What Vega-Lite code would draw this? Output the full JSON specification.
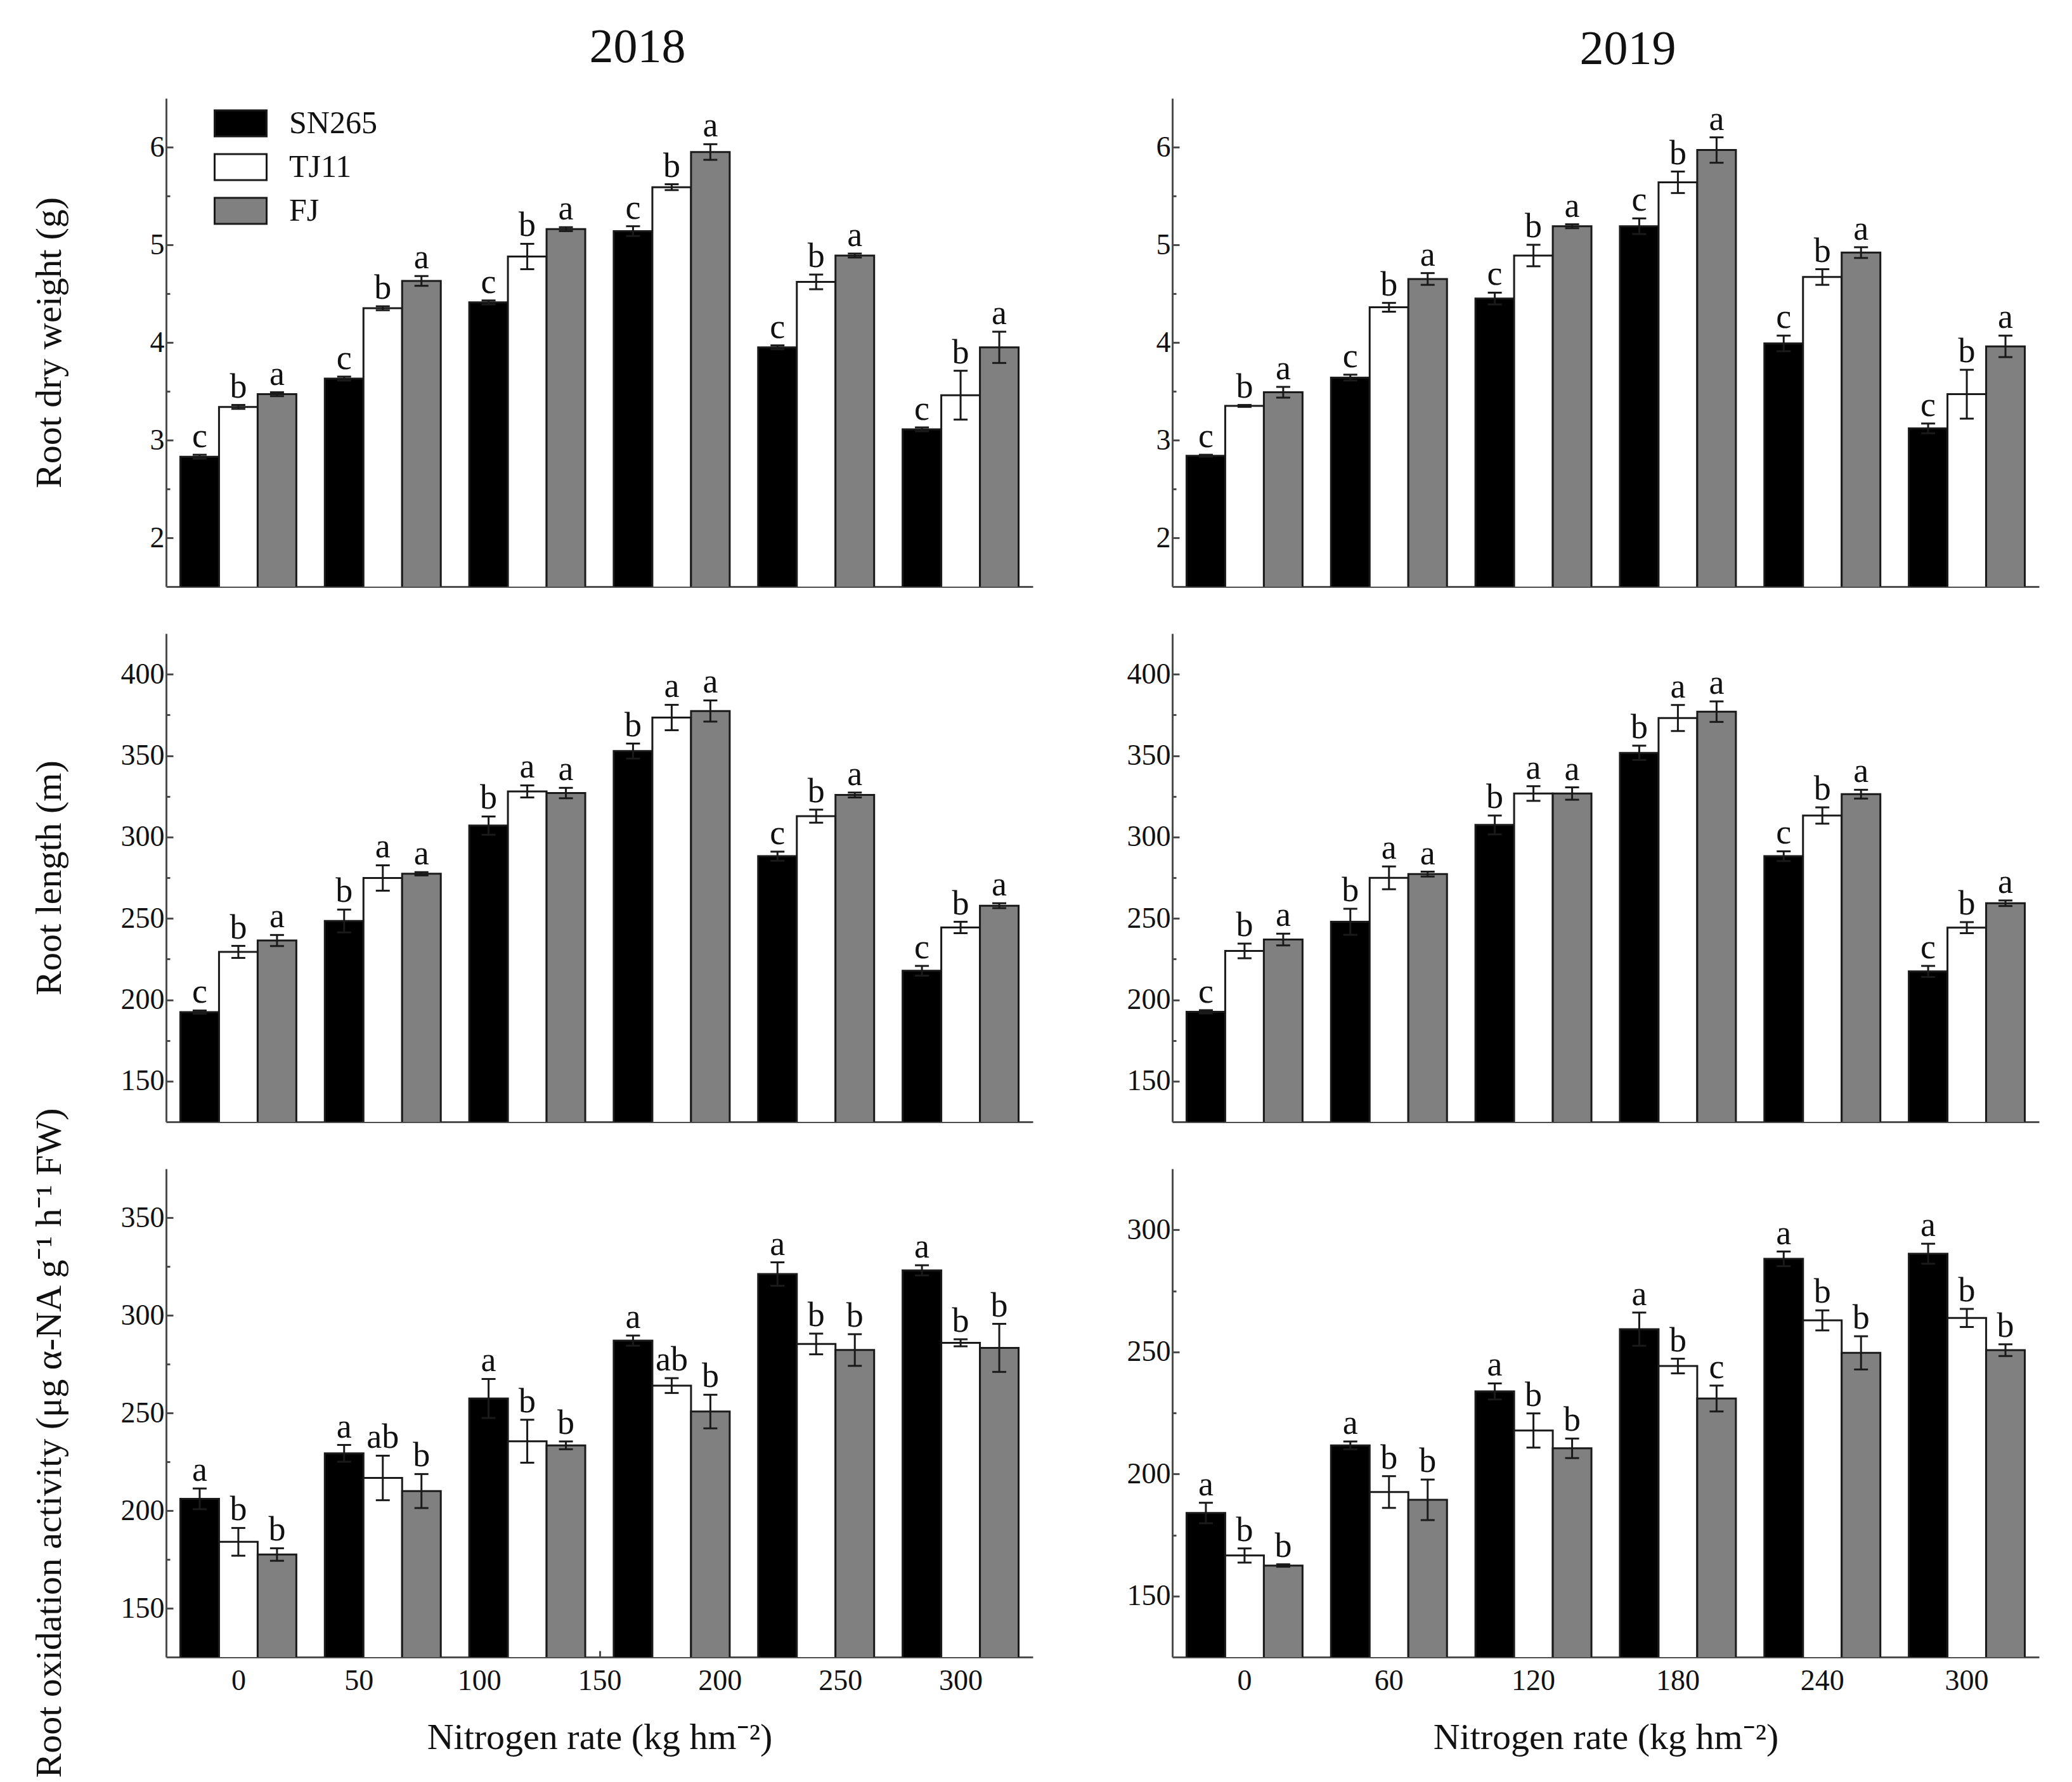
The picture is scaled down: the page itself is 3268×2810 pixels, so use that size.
{
  "$schema": "https://vega.github.io/schema/vega-lite/v6.json",
  "background": "white",
  "padding": {"left": 48, "top": 37, "right": 20, "bottom": 20},
  "bounds": "flush",
  "columns": 2,
  "spacing": {"row": 74, "column": 220},
  "resolve": {"scale": {"fill": "independent"}, "legend": {"fill": "independent"}},
  "config": {
    "view": {"stroke": null},
    "font": "Liberation Serif",
    "axis": {"domainColor": "#4d4d4d", "domainWidth": 3, "tickColor": "#4d4d4d", "tickWidth": 3, "labelFont": "Liberation Serif", "labelFontSize": 46, "labelColor": "#111111", "titleFont": "Liberation Serif", "titleFontSize": 58, "titleFontWeight": "normal", "titleColor": "#111111", "grid": false, "labelPadding": 14},
    "axisX": {"labelPadding": 25, "titlePadding": 38},
    "title": {"font": "Liberation Serif", "fontSize": 76, "fontWeight": "normal", "color": "#111111", "frame": "group", "offset": 38},
    "legend": {"labelFont": "Liberation Serif", "labelFontSize": 50, "labelColor": "#111111"}
  },
  "datasets": {
    "w18": [
      {"N": 0, "v": "SN265", "mean": 2.83, "lo": 2.81, "hi": 2.85, "let": "c"},
      {"N": 0, "v": "TJ11", "mean": 3.34, "lo": 3.32, "hi": 3.36, "let": "b"},
      {"N": 0, "v": "FJ", "mean": 3.47, "lo": 3.45, "hi": 3.49, "let": "a"},
      {"N": 60, "v": "SN265", "mean": 3.63, "lo": 3.61, "hi": 3.65, "let": "c"},
      {"N": 60, "v": "TJ11", "mean": 4.35, "lo": 4.33, "hi": 4.37, "let": "b"},
      {"N": 60, "v": "FJ", "mean": 4.63, "lo": 4.58, "hi": 4.68, "let": "a"},
      {"N": 120, "v": "SN265", "mean": 4.41, "lo": 4.39, "hi": 4.43, "let": "c"},
      {"N": 120, "v": "TJ11", "mean": 4.88, "lo": 4.75, "hi": 5.01, "let": "b"},
      {"N": 120, "v": "FJ", "mean": 5.16, "lo": 5.14, "hi": 5.18, "let": "a"},
      {"N": 180, "v": "SN265", "mean": 5.14, "lo": 5.09, "hi": 5.19, "let": "c"},
      {"N": 180, "v": "TJ11", "mean": 5.59, "lo": 5.56, "hi": 5.62, "let": "b"},
      {"N": 180, "v": "FJ", "mean": 5.95, "lo": 5.87, "hi": 6.03, "let": "a"},
      {"N": 240, "v": "SN265", "mean": 3.95, "lo": 3.93, "hi": 3.97, "let": "c"},
      {"N": 240, "v": "TJ11", "mean": 4.62, "lo": 4.545, "hi": 4.695, "let": "b"},
      {"N": 240, "v": "FJ", "mean": 4.89, "lo": 4.87, "hi": 4.91, "let": "a"},
      {"N": 300, "v": "SN265", "mean": 3.11, "lo": 3.09, "hi": 3.13, "let": "c"},
      {"N": 300, "v": "TJ11", "mean": 3.46, "lo": 3.21, "hi": 3.71, "let": "b"},
      {"N": 300, "v": "FJ", "mean": 3.95, "lo": 3.79, "hi": 4.11, "let": "a"}
    ],
    "w19": [
      {"N": 0, "v": "SN265", "mean": 2.84, "lo": 2.83, "hi": 2.85, "let": "c"},
      {"N": 0, "v": "TJ11", "mean": 3.35, "lo": 3.34, "hi": 3.36, "let": "b"},
      {"N": 0, "v": "FJ", "mean": 3.49, "lo": 3.435, "hi": 3.545, "let": "a"},
      {"N": 60, "v": "SN265", "mean": 3.64, "lo": 3.61, "hi": 3.67, "let": "c"},
      {"N": 60, "v": "TJ11", "mean": 4.36, "lo": 4.315, "hi": 4.405, "let": "b"},
      {"N": 60, "v": "FJ", "mean": 4.65, "lo": 4.59, "hi": 4.71, "let": "a"},
      {"N": 120, "v": "SN265", "mean": 4.45, "lo": 4.39, "hi": 4.51, "let": "c"},
      {"N": 120, "v": "TJ11", "mean": 4.89, "lo": 4.78, "hi": 5.0, "let": "b"},
      {"N": 120, "v": "FJ", "mean": 5.19, "lo": 5.17, "hi": 5.21, "let": "a"},
      {"N": 180, "v": "SN265", "mean": 5.19, "lo": 5.11, "hi": 5.27, "let": "c"},
      {"N": 180, "v": "TJ11", "mean": 5.64, "lo": 5.53, "hi": 5.75, "let": "b"},
      {"N": 180, "v": "FJ", "mean": 5.97, "lo": 5.84, "hi": 6.1, "let": "a"},
      {"N": 240, "v": "SN265", "mean": 3.99, "lo": 3.91, "hi": 4.07, "let": "c"},
      {"N": 240, "v": "TJ11", "mean": 4.67, "lo": 4.59, "hi": 4.75, "let": "b"},
      {"N": 240, "v": "FJ", "mean": 4.92, "lo": 4.865, "hi": 4.975, "let": "a"},
      {"N": 300, "v": "SN265", "mean": 3.12, "lo": 3.07, "hi": 3.17, "let": "c"},
      {"N": 300, "v": "TJ11", "mean": 3.47, "lo": 3.22, "hi": 3.72, "let": "b"},
      {"N": 300, "v": "FJ", "mean": 3.96, "lo": 3.85, "hi": 4.07, "let": "a"}
    ],
    "l18": [
      {"N": 0, "v": "SN265", "mean": 192.4, "lo": 191.4, "hi": 193.4, "let": "c"},
      {"N": 0, "v": "TJ11", "mean": 229.4, "lo": 225.7, "hi": 233.1, "let": "b"},
      {"N": 0, "v": "FJ", "mean": 236.4, "lo": 233.0, "hi": 239.8, "let": "a"},
      {"N": 60, "v": "SN265", "mean": 248.4, "lo": 241.4, "hi": 255.4, "let": "b"},
      {"N": 60, "v": "TJ11", "mean": 274.8, "lo": 267.0, "hi": 282.6, "let": "a"},
      {"N": 60, "v": "FJ", "mean": 277.4, "lo": 276.4, "hi": 278.4, "let": "a"},
      {"N": 120, "v": "SN265", "mean": 307.0, "lo": 301.4, "hi": 312.6, "let": "b"},
      {"N": 120, "v": "TJ11", "mean": 328.0, "lo": 324.3, "hi": 331.7, "let": "a"},
      {"N": 120, "v": "FJ", "mean": 327.0, "lo": 323.8, "hi": 330.2, "let": "a"},
      {"N": 180, "v": "SN265", "mean": 352.8, "lo": 348.2, "hi": 357.4, "let": "b"},
      {"N": 180, "v": "TJ11", "mean": 373.4, "lo": 365.6, "hi": 381.2, "let": "a"},
      {"N": 180, "v": "FJ", "mean": 377.4, "lo": 370.9, "hi": 383.9, "let": "a"},
      {"N": 240, "v": "SN265", "mean": 288.2, "lo": 285.4, "hi": 291.0, "let": "c"},
      {"N": 240, "v": "TJ11", "mean": 312.8, "lo": 308.8, "hi": 316.8, "let": "b"},
      {"N": 240, "v": "FJ", "mean": 325.8, "lo": 324.3, "hi": 327.3, "let": "a"},
      {"N": 300, "v": "SN265", "mean": 217.8, "lo": 214.8, "hi": 220.8, "let": "c"},
      {"N": 300, "v": "TJ11", "mean": 244.4, "lo": 240.9, "hi": 247.9, "let": "b"},
      {"N": 300, "v": "FJ", "mean": 257.8, "lo": 256.3, "hi": 259.3, "let": "a"}
    ],
    "l19": [
      {"N": 0, "v": "SN265", "mean": 192.6, "lo": 191.6, "hi": 193.6, "let": "c"},
      {"N": 0, "v": "TJ11", "mean": 230.0, "lo": 225.5, "hi": 234.5, "let": "b"},
      {"N": 0, "v": "FJ", "mean": 237.0, "lo": 233.4, "hi": 240.6, "let": "a"},
      {"N": 60, "v": "SN265", "mean": 247.9, "lo": 239.9, "hi": 255.9, "let": "b"},
      {"N": 60, "v": "TJ11", "mean": 274.9, "lo": 267.9, "hi": 281.9, "let": "a"},
      {"N": 60, "v": "FJ", "mean": 277.2, "lo": 275.7, "hi": 278.7, "let": "a"},
      {"N": 120, "v": "SN265", "mean": 307.4, "lo": 301.6, "hi": 313.2, "let": "b"},
      {"N": 120, "v": "TJ11", "mean": 326.7, "lo": 322.2, "hi": 331.2, "let": "a"},
      {"N": 120, "v": "FJ", "mean": 326.7, "lo": 322.9, "hi": 330.5, "let": "a"},
      {"N": 180, "v": "SN265", "mean": 351.7, "lo": 347.3, "hi": 356.1, "let": "b"},
      {"N": 180, "v": "TJ11", "mean": 373.1, "lo": 365.1, "hi": 381.1, "let": "a"},
      {"N": 180, "v": "FJ", "mean": 377.0, "lo": 370.7, "hi": 383.3, "let": "a"},
      {"N": 240, "v": "SN265", "mean": 288.2, "lo": 285.2, "hi": 291.2, "let": "c"},
      {"N": 240, "v": "TJ11", "mean": 313.2, "lo": 308.2, "hi": 318.2, "let": "b"},
      {"N": 240, "v": "FJ", "mean": 326.3, "lo": 323.6, "hi": 329.0, "let": "a"},
      {"N": 300, "v": "SN265", "mean": 217.4, "lo": 214.0, "hi": 220.8, "let": "c"},
      {"N": 300, "v": "TJ11", "mean": 244.3, "lo": 240.9, "hi": 247.7, "let": "b"},
      {"N": 300, "v": "FJ", "mean": 259.3, "lo": 257.6, "hi": 261.0, "let": "a"}
    ],
    "o18": [
      {"N": 0, "v": "SN265", "mean": 206.0, "lo": 200.7, "hi": 211.3, "let": "a"},
      {"N": 0, "v": "TJ11", "mean": 184.0, "lo": 176.9, "hi": 191.1, "let": "b"},
      {"N": 0, "v": "FJ", "mean": 177.5, "lo": 174.3, "hi": 180.7, "let": "b"},
      {"N": 60, "v": "SN265", "mean": 229.3, "lo": 225.0, "hi": 233.6, "let": "a"},
      {"N": 60, "v": "TJ11", "mean": 216.7, "lo": 205.3, "hi": 228.1, "let": "ab"},
      {"N": 60, "v": "FJ", "mean": 210.0, "lo": 201.3, "hi": 218.7, "let": "b"},
      {"N": 120, "v": "SN265", "mean": 257.4, "lo": 247.4, "hi": 267.4, "let": "a"},
      {"N": 120, "v": "TJ11", "mean": 235.5, "lo": 224.5, "hi": 246.5, "let": "b"},
      {"N": 120, "v": "FJ", "mean": 233.4, "lo": 231.4, "hi": 235.4, "let": "b"},
      {"N": 180, "v": "SN265", "mean": 287.0, "lo": 284.4, "hi": 289.6, "let": "a"},
      {"N": 180, "v": "TJ11", "mean": 264.0, "lo": 260.2, "hi": 267.8, "let": "ab"},
      {"N": 180, "v": "FJ", "mean": 250.7, "lo": 242.1, "hi": 259.3, "let": "b"},
      {"N": 240, "v": "SN265", "mean": 321.1, "lo": 315.1, "hi": 327.1, "let": "a"},
      {"N": 240, "v": "TJ11", "mean": 285.3, "lo": 280.0, "hi": 290.6, "let": "b"},
      {"N": 240, "v": "FJ", "mean": 282.2, "lo": 274.1, "hi": 290.3, "let": "b"},
      {"N": 300, "v": "SN265", "mean": 323.0, "lo": 320.4, "hi": 325.6, "let": "a"},
      {"N": 300, "v": "TJ11", "mean": 285.9, "lo": 284.1, "hi": 287.7, "let": "b"},
      {"N": 300, "v": "FJ", "mean": 283.3, "lo": 271.0, "hi": 295.6, "let": "b"}
    ],
    "o19": [
      {"N": 0, "v": "SN265", "mean": 184.0, "lo": 179.8, "hi": 188.2, "let": "a"},
      {"N": 0, "v": "TJ11", "mean": 166.6, "lo": 163.7, "hi": 169.5, "let": "b"},
      {"N": 0, "v": "FJ", "mean": 162.5, "lo": 162.0, "hi": 163.0, "let": "b"},
      {"N": 60, "v": "SN265", "mean": 211.7, "lo": 210.1, "hi": 213.3, "let": "a"},
      {"N": 60, "v": "TJ11", "mean": 192.6, "lo": 186.1, "hi": 199.1, "let": "b"},
      {"N": 60, "v": "FJ", "mean": 189.4, "lo": 181.1, "hi": 197.7, "let": "b"},
      {"N": 120, "v": "SN265", "mean": 233.8, "lo": 230.5, "hi": 237.1, "let": "a"},
      {"N": 120, "v": "TJ11", "mean": 217.8, "lo": 210.8, "hi": 224.8, "let": "b"},
      {"N": 120, "v": "FJ", "mean": 210.5, "lo": 206.5, "hi": 214.5, "let": "b"},
      {"N": 180, "v": "SN265", "mean": 259.3, "lo": 252.5, "hi": 266.1, "let": "a"},
      {"N": 180, "v": "TJ11", "mean": 244.2, "lo": 241.2, "hi": 247.2, "let": "b"},
      {"N": 180, "v": "FJ", "mean": 230.9, "lo": 225.6, "hi": 236.2, "let": "c"},
      {"N": 240, "v": "SN265", "mean": 288.1, "lo": 285.1, "hi": 291.1, "let": "a"},
      {"N": 240, "v": "TJ11", "mean": 262.9, "lo": 258.8, "hi": 267.0, "let": "b"},
      {"N": 240, "v": "FJ", "mean": 249.6, "lo": 242.8, "hi": 256.4, "let": "b"},
      {"N": 300, "v": "SN265", "mean": 290.2, "lo": 286.1, "hi": 294.3, "let": "a"},
      {"N": 300, "v": "TJ11", "mean": 263.9, "lo": 260.2, "hi": 267.6, "let": "b"},
      {"N": 300, "v": "FJ", "mean": 250.7, "lo": 248.3, "hi": 253.1, "let": "b"}
    ]
  },
  "concat": [
    {
      "width": 1367, "height": 770,
      "title": {"text": "2018", "dx": 60},
      "data": {"name": "w18"},
      "encoding": {
        "x": {"field": "N", "type": "ordinal", "scale": {"paddingInner": 0.197, "paddingOuter": 0.0985}, "axis": {"labels": false, "title": null, "tickSize": -10}},
        "xOffset": {"field": "v", "type": "nominal", "scale": {"domain": ["SN265", "TJ11", "FJ"], "paddingInner": 0, "paddingOuter": 0}}
      },
      "layer": [
        {"mark": {"type": "bar", "clip": true, "stroke": "#1a1a1a", "strokeWidth": 3},
         "encoding": {
           "y": {"field": "mean", "type": "quantitative", "scale": {"domain": [1.5, 6.5], "nice": false, "zero": false},
                 "axis": {"title": "Root dry weight (g)", "values": [2, 2.5, 3, 3.5, 4, 4.5, 5, 5.5, 6], "labelExpr": "datum.value % 1 === 0 ? format(datum.value, 'd') : ''", "tickSize": {"condition": {"test": "datum.value % 1 !== 0", "value": -6}, "value": -11}, "titleX": -184, "titleY": 385, "titleBaseline": "middle"}},
           "fill": {"field": "v", "type": "nominal", "scale": {"domain": ["SN265", "TJ11", "FJ"], "range": ["#000000", "#ffffff", "#808080"]},
                    "legend": {"title": null, "orient": "none", "legendX": 75, "legendY": -3, "symbolType": "M-1,-0.5H1V0.5H-1Z", "symbolSize": 6724, "symbolStrokeColor": "#1a1a1a", "symbolStrokeWidth": 3, "labelOffset": 34, "rowPadding": -4}}
         }},
        {"mark": {"type": "rule", "color": "#1a1a1a", "strokeWidth": 3},
         "encoding": {"y": {"field": "lo", "type": "quantitative", "scale": {"domain": [1.5, 6.5], "nice": false, "zero": false}}, "y2": {"field": "hi"}}},
        {"mark": {"type": "tick", "orient": "horizontal", "color": "#1a1a1a", "size": 22, "thickness": 3, "opacity": 1},
         "encoding": {"y": {"field": "lo", "type": "quantitative", "scale": {"domain": [1.5, 6.5], "nice": false, "zero": false}}}},
        {"mark": {"type": "tick", "orient": "horizontal", "color": "#1a1a1a", "size": 22, "thickness": 3, "opacity": 1},
         "encoding": {"y": {"field": "hi", "type": "quantitative", "scale": {"domain": [1.5, 6.5], "nice": false, "zero": false}}}},
        {"mark": {"type": "text", "baseline": "alphabetic", "dy": -12, "fontSize": 54, "color": "#111111"},
         "encoding": {"y": {"field": "hi", "type": "quantitative", "scale": {"domain": [1.5, 6.5], "nice": false, "zero": false}}, "text": {"field": "let"}}}
      ]
    },
    {
      "width": 1367, "height": 770,
      "title": {"text": "2019", "dx": 35},
      "data": {"name": "w19"},
      "encoding": {
        "x": {"field": "N", "type": "ordinal", "scale": {"paddingInner": 0.197, "paddingOuter": 0.0985}, "axis": {"labels": false, "title": null, "tickSize": -10}},
        "xOffset": {"field": "v", "type": "nominal", "scale": {"domain": ["SN265", "TJ11", "FJ"], "paddingInner": 0, "paddingOuter": 0}}
      },
      "layer": [
        {"mark": {"type": "bar", "clip": true, "stroke": "#1a1a1a", "strokeWidth": 3},
         "encoding": {
           "y": {"field": "mean", "type": "quantitative", "scale": {"domain": [1.5, 6.5], "nice": false, "zero": false},
                 "axis": {"title": null, "values": [2, 2.5, 3, 3.5, 4, 4.5, 5, 5.5, 6], "labelExpr": "datum.value % 1 === 0 ? format(datum.value, 'd') : ''", "tickSize": {"condition": {"test": "datum.value % 1 !== 0", "value": -6}, "value": -11}}},
           "fill": {"field": "v", "type": "nominal", "scale": {"domain": ["SN265", "TJ11", "FJ"], "range": ["#000000", "#ffffff", "#808080"]}, "legend": null}
         }},
        {"mark": {"type": "rule", "color": "#1a1a1a", "strokeWidth": 3},
         "encoding": {"y": {"field": "lo", "type": "quantitative", "scale": {"domain": [1.5, 6.5], "nice": false, "zero": false}}, "y2": {"field": "hi"}}},
        {"mark": {"type": "tick", "orient": "horizontal", "color": "#1a1a1a", "size": 22, "thickness": 3, "opacity": 1},
         "encoding": {"y": {"field": "lo", "type": "quantitative", "scale": {"domain": [1.5, 6.5], "nice": false, "zero": false}}}},
        {"mark": {"type": "tick", "orient": "horizontal", "color": "#1a1a1a", "size": 22, "thickness": 3, "opacity": 1},
         "encoding": {"y": {"field": "hi", "type": "quantitative", "scale": {"domain": [1.5, 6.5], "nice": false, "zero": false}}}},
        {"mark": {"type": "text", "baseline": "alphabetic", "dy": -12, "fontSize": 54, "color": "#111111"},
         "encoding": {"y": {"field": "hi", "type": "quantitative", "scale": {"domain": [1.5, 6.5], "nice": false, "zero": false}}, "text": {"field": "let"}}}
      ]
    },
    {
      "width": 1367, "height": 770,
      "data": {"name": "l18"},
      "encoding": {
        "x": {"field": "N", "type": "ordinal", "scale": {"paddingInner": 0.197, "paddingOuter": 0.0985}, "axis": {"labels": false, "title": null, "tickSize": -10}},
        "xOffset": {"field": "v", "type": "nominal", "scale": {"domain": ["SN265", "TJ11", "FJ"], "paddingInner": 0, "paddingOuter": 0}}
      },
      "layer": [
        {"mark": {"type": "bar", "clip": true, "stroke": "#1a1a1a", "strokeWidth": 3},
         "encoding": {
           "y": {"field": "mean", "type": "quantitative", "scale": {"domain": [125, 425], "nice": false, "zero": false},
                 "axis": {"title": "Root length (m)", "values": [150, 175, 200, 225, 250, 275, 300, 325, 350, 375, 400], "labelExpr": "datum.value % 50 === 0 ? datum.label : ''", "tickSize": {"condition": {"test": "datum.value % 50 !== 0", "value": -6}, "value": -11}, "titleX": -184, "titleY": 385, "titleBaseline": "middle"}},
           "fill": {"field": "v", "type": "nominal", "scale": {"domain": ["SN265", "TJ11", "FJ"], "range": ["#000000", "#ffffff", "#808080"]}, "legend": null}
         }},
        {"mark": {"type": "rule", "color": "#1a1a1a", "strokeWidth": 3},
         "encoding": {"y": {"field": "lo", "type": "quantitative", "scale": {"domain": [125, 425], "nice": false, "zero": false}}, "y2": {"field": "hi"}}},
        {"mark": {"type": "tick", "orient": "horizontal", "color": "#1a1a1a", "size": 22, "thickness": 3, "opacity": 1},
         "encoding": {"y": {"field": "lo", "type": "quantitative", "scale": {"domain": [125, 425], "nice": false, "zero": false}}}},
        {"mark": {"type": "tick", "orient": "horizontal", "color": "#1a1a1a", "size": 22, "thickness": 3, "opacity": 1},
         "encoding": {"y": {"field": "hi", "type": "quantitative", "scale": {"domain": [125, 425], "nice": false, "zero": false}}}},
        {"mark": {"type": "text", "baseline": "alphabetic", "dy": -12, "fontSize": 54, "color": "#111111"},
         "encoding": {"y": {"field": "hi", "type": "quantitative", "scale": {"domain": [125, 425], "nice": false, "zero": false}}, "text": {"field": "let"}}}
      ]
    },
    {
      "width": 1367, "height": 770,
      "data": {"name": "l19"},
      "encoding": {
        "x": {"field": "N", "type": "ordinal", "scale": {"paddingInner": 0.197, "paddingOuter": 0.0985}, "axis": {"labels": false, "title": null, "tickSize": -10}},
        "xOffset": {"field": "v", "type": "nominal", "scale": {"domain": ["SN265", "TJ11", "FJ"], "paddingInner": 0, "paddingOuter": 0}}
      },
      "layer": [
        {"mark": {"type": "bar", "clip": true, "stroke": "#1a1a1a", "strokeWidth": 3},
         "encoding": {
           "y": {"field": "mean", "type": "quantitative", "scale": {"domain": [125, 425], "nice": false, "zero": false},
                 "axis": {"title": null, "values": [150, 175, 200, 225, 250, 275, 300, 325, 350, 375, 400], "labelExpr": "datum.value % 50 === 0 ? datum.label : ''", "tickSize": {"condition": {"test": "datum.value % 50 !== 0", "value": -6}, "value": -11}}},
           "fill": {"field": "v", "type": "nominal", "scale": {"domain": ["SN265", "TJ11", "FJ"], "range": ["#000000", "#ffffff", "#808080"]}, "legend": null}
         }},
        {"mark": {"type": "rule", "color": "#1a1a1a", "strokeWidth": 3},
         "encoding": {"y": {"field": "lo", "type": "quantitative", "scale": {"domain": [125, 425], "nice": false, "zero": false}}, "y2": {"field": "hi"}}},
        {"mark": {"type": "tick", "orient": "horizontal", "color": "#1a1a1a", "size": 22, "thickness": 3, "opacity": 1},
         "encoding": {"y": {"field": "lo", "type": "quantitative", "scale": {"domain": [125, 425], "nice": false, "zero": false}}}},
        {"mark": {"type": "tick", "orient": "horizontal", "color": "#1a1a1a", "size": 22, "thickness": 3, "opacity": 1},
         "encoding": {"y": {"field": "hi", "type": "quantitative", "scale": {"domain": [125, 425], "nice": false, "zero": false}}}},
        {"mark": {"type": "text", "baseline": "alphabetic", "dy": -12, "fontSize": 54, "color": "#111111"},
         "encoding": {"y": {"field": "hi", "type": "quantitative", "scale": {"domain": [125, 425], "nice": false, "zero": false}}, "text": {"field": "let"}}}
      ]
    },
    {
      "width": 1367, "height": 770,
      "data": {"name": "o18"},
      "resolve": {"scale": {"x": "independent"}},
      "layer": [
        {
          "encoding": {
            "x": {"field": "N", "type": "ordinal", "scale": {"paddingInner": 0.197, "paddingOuter": 0.0985}, "axis": null},
            "xOffset": {"field": "v", "type": "nominal", "scale": {"domain": ["SN265", "TJ11", "FJ"], "paddingInner": 0, "paddingOuter": 0}}
          },
          "layer": [
            {"mark": {"type": "bar", "clip": true, "stroke": "#1a1a1a", "strokeWidth": 3},
             "encoding": {
               "y": {"field": "mean", "type": "quantitative", "scale": {"domain": [125, 375], "nice": false, "zero": false},
                     "axis": {"title": "Root oxidation activity (μg α-NA g⁻¹ h⁻¹ FW)", "values": [150, 175, 200, 225, 250, 275, 300, 325, 350], "labelExpr": "datum.value % 50 === 0 ? datum.label : ''", "tickSize": {"condition": {"test": "datum.value % 50 !== 0", "value": -6}, "value": -11}, "titleX": -184, "titleY": 432, "titleBaseline": "middle"}},
               "fill": {"field": "v", "type": "nominal", "scale": {"domain": ["SN265", "TJ11", "FJ"], "range": ["#000000", "#ffffff", "#808080"]}, "legend": null}
             }},
            {"mark": {"type": "rule", "color": "#1a1a1a", "strokeWidth": 3},
             "encoding": {"y": {"field": "lo", "type": "quantitative", "scale": {"domain": [125, 375], "nice": false, "zero": false}}, "y2": {"field": "hi"}}},
            {"mark": {"type": "tick", "orient": "horizontal", "color": "#1a1a1a", "size": 22, "thickness": 3, "opacity": 1},
             "encoding": {"y": {"field": "lo", "type": "quantitative", "scale": {"domain": [125, 375], "nice": false, "zero": false}}}},
            {"mark": {"type": "tick", "orient": "horizontal", "color": "#1a1a1a", "size": 22, "thickness": 3, "opacity": 1},
             "encoding": {"y": {"field": "hi", "type": "quantitative", "scale": {"domain": [125, 375], "nice": false, "zero": false}}}},
            {"mark": {"type": "text", "baseline": "alphabetic", "dy": -12, "fontSize": 54, "color": "#111111"},
             "encoding": {"y": {"field": "hi", "type": "quantitative", "scale": {"domain": [125, 375], "nice": false, "zero": false}}, "text": {"field": "let"}}}
          ]
        },
        {
          "mark": {"type": "point", "opacity": 0},
          "encoding": {
            "x": {"field": "N", "type": "quantitative", "scale": {"domain": [-30, 330], "nice": false, "zero": false},
                  "axis": {"values": [0, 50, 100, 150, 200, 250, 300], "tickSize": -10, "title": "Nitrogen rate (kg hm⁻²)"}}
          }
        }
      ]
    },
    {
      "width": 1367, "height": 770,
      "data": {"name": "o19"},
      "encoding": {
        "x": {"field": "N", "type": "ordinal", "scale": {"paddingInner": 0.197, "paddingOuter": 0.0985}, "axis": {"labelAngle": 0, "title": "Nitrogen rate (kg hm⁻²)", "tickSize": -10}},
        "xOffset": {"field": "v", "type": "nominal", "scale": {"domain": ["SN265", "TJ11", "FJ"], "paddingInner": 0, "paddingOuter": 0}}
      },
      "layer": [
        {"mark": {"type": "bar", "clip": true, "stroke": "#1a1a1a", "strokeWidth": 3},
         "encoding": {
           "y": {"field": "mean", "type": "quantitative", "scale": {"domain": [125, 325], "nice": false, "zero": false},
                 "axis": {"title": null, "values": [150, 175, 200, 225, 250, 275, 300], "labelExpr": "datum.value % 50 === 0 ? datum.label : ''", "tickSize": {"condition": {"test": "datum.value % 50 !== 0", "value": -6}, "value": -11}}},
           "fill": {"field": "v", "type": "nominal", "scale": {"domain": ["SN265", "TJ11", "FJ"], "range": ["#000000", "#ffffff", "#808080"]}, "legend": null}
         }},
        {"mark": {"type": "rule", "color": "#1a1a1a", "strokeWidth": 3},
         "encoding": {"y": {"field": "lo", "type": "quantitative", "scale": {"domain": [125, 325], "nice": false, "zero": false}}, "y2": {"field": "hi"}}},
        {"mark": {"type": "tick", "orient": "horizontal", "color": "#1a1a1a", "size": 22, "thickness": 3, "opacity": 1},
         "encoding": {"y": {"field": "lo", "type": "quantitative", "scale": {"domain": [125, 325], "nice": false, "zero": false}}}},
        {"mark": {"type": "tick", "orient": "horizontal", "color": "#1a1a1a", "size": 22, "thickness": 3, "opacity": 1},
         "encoding": {"y": {"field": "hi", "type": "quantitative", "scale": {"domain": [125, 325], "nice": false, "zero": false}}}},
        {"mark": {"type": "text", "baseline": "alphabetic", "dy": -12, "fontSize": 54, "color": "#111111"},
         "encoding": {"y": {"field": "hi", "type": "quantitative", "scale": {"domain": [125, 325], "nice": false, "zero": false}}, "text": {"field": "let"}}}
      ]
    }
  ]
}
